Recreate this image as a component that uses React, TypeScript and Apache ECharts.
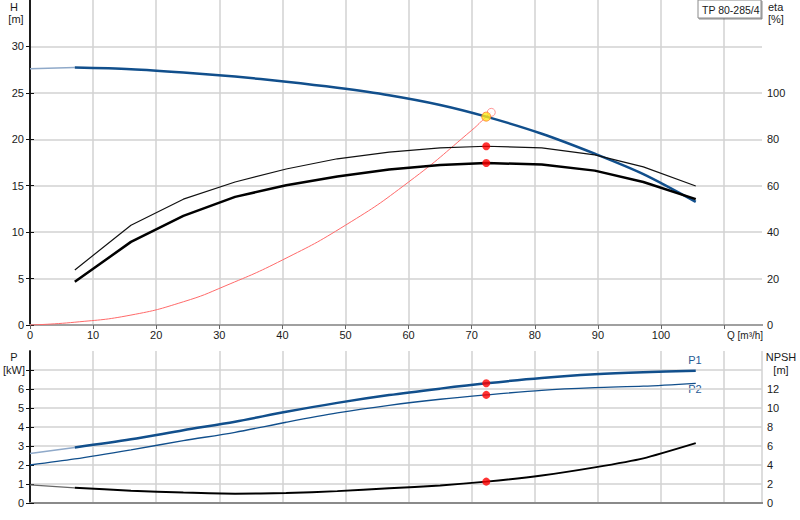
import * as echarts from "echarts"
import { useEffect, useRef } from "react"

// Pump curve sheet: Q-H and efficiency on top, power and NPSH below.
const flow = [7.1, 16, 24.3, 32.5, 40.6, 48.7, 56.9, 65, 72.3, 81.1, 89.5, 97.2, 105.5]
const head = [27.72, 27.55, 27.2, 26.75, 26.2, 25.55, 24.75, 23.7, 22.44, 20.6, 18.45, 16.25, 13.26]
const etaPump = [23.7, 43, 54.2, 61.6, 67.2, 71.6, 74.5, 76.3, 77.0, 76.3, 73.3, 68.1, 59.9]
const etaTotal = [18.6, 35.8, 47, 55.2, 60.2, 64.0, 67.0, 68.9, 69.8, 69.1, 66.5, 61.6, 54.2]
const powerP1 = [2.92, 3.35, 3.83, 4.28, 4.8, 5.27, 5.68, 6.02, 6.3, 6.58, 6.77, 6.88, 6.96]
const powerP2 = [2.32, 2.8, 3.28, 3.72, 4.25, 4.74, 5.14, 5.46, 5.69, 5.93, 6.07, 6.15, 6.3]
const npsh = [1.6, 1.3, 1.1, 0.98, 1.04, 1.25, 1.55, 1.85, 2.25, 2.9, 3.75, 4.7, 6.3]

// values at Q = 0 (extrapolated part, drawn lighter)
const headAtZero = 27.6
const p1AtZero = 2.6
const p2AtZero = 2.0
const npshAtZero = 1.9

// system curve
const systemQ = [0, 7.1, 16, 24.3, 30.9, 40, 50, 60, 70, 72.3, 73.1]
const systemH = [0, 0.3, 1.07, 2.5, 4.2, 7.0, 10.75, 15.4, 20.97, 22.44, 22.9]

// duty point
const dutyQ = 72.3
const dutyH = 22.44
const dutyEtaPump = 77.0
const dutyEtaTotal = 69.8
const dutyP1 = 6.3
const dutyP2 = 5.69
const dutyNpsh = 2.25
const requestedQ = 73.1
const requestedH = 22.9

const qLabels = [0, 10, 20, 30, 40, 50, 60, 70, 80, 90, 100]
const qTicks = [0, 10, 20, 30, 40, 50, 60, 70, 80, 90, 100, 110]
const hLabels = [0, 5, 10, 15, 20, 25, 30]
const etaLabels = [0, 20, 40, 60, 80, 100]
const pTicks = [0, 1, 2, 3, 4, 5, 6, 7]
const pLabels = [0, 1, 2, 3, 4, 5, 6]
const npshTicks = [0, 2, 4, 6, 8, 10, 12, 14]
const npshLabels = [0, 2, 4, 6, 8, 10, 12]

const font = "'Liberation Sans', Arial, sans-serif"
const ink = "#1a1a1a"
const blue = "#114f8c"

const zip = (xs: number[], ys: number[]) => xs.map((x, i) => [x, ys[i]])

export default function App() {
  const ref = useRef<HTMLDivElement>(null)

  useEffect(() => {
    if (!ref.current) return
    const chart = echarts.init(ref.current, null, { renderer: "svg" })

    const grid = { show: true, lineStyle: { color: "#d2d2d2", width: 1.5 } }
    const label = { color: ink, fontSize: 11, fontFamily: font }
    const border = (gridIndex: number, position: string, color: string) => ({
      gridIndex,
      position,
      type: "value",
      min: 0,
      max: 116,
      axisLine: { show: true, lineStyle: { color, width: 2 } },
      axisTick: { show: false },
      axisLabel: { show: false },
      splitLine: { show: false },
    })
    const text = (x: number, y: number, s: string, align = "center", color = ink, size = 11) => ({
      type: "text",
      x,
      y,
      style: { text: s, fill: color, font: `${size}px ${font}`, textAlign: align, textVerticalAlign: "top" },
    })
    const dot = (xi: number, yi: number, pts: number[][], color = "#ff0000", size = 8, extra = {}) => ({
      type: "scatter",
      xAxisIndex: xi,
      yAxisIndex: yi,
      data: pts,
      symbolSize: size,
      itemStyle: { color, ...extra },
      z: 10,
    })
    const line = (xi: number, yi: number, pts: number[][], color: string, width: number, smooth: number | boolean = false) => ({
      type: "line",
      xAxisIndex: xi,
      yAxisIndex: yi,
      data: pts,
      showSymbol: false,
      smooth,
      lineStyle: { color, width },
    })

    chart.setOption({
      animation: false,
      backgroundColor: "#fff",
      grid: [
        { left: 30, right: 38, top: 0, height: 325 },
        { left: 30, right: 38, top: 351, height: 152 },
      ],
      xAxis: [
        {
          gridIndex: 0,
          type: "value",
          min: 0,
          max: 116,
          interval: 10,
          axisLine: { lineStyle: { color: "#7a7a7a", width: 2 } },
          axisTick: { length: 4, lineStyle: { color: "#666" }, customValues: qTicks },
          axisLabel: { ...label, margin: 4, customValues: qLabels },
          splitLine: grid,
        },
        border(0, "top", "#a0a0a0"),
        {
          gridIndex: 1,
          type: "value",
          min: 0,
          max: 116,
          interval: 10,
          axisLine: { lineStyle: { color: "#7a7a7a", width: 2 } },
          axisTick: { show: false },
          axisLabel: { show: false },
          splitLine: grid,
        },
        border(1, "top", "#8a8a8a"),
      ],
      yAxis: [
        {
          gridIndex: 0,
          type: "value",
          min: 0,
          max: 35,
          interval: 5,
          axisLine: { show: true, lineStyle: { color: "#111", width: 1.5 } },
          axisTick: { show: true, length: 4, lineStyle: { color: "#111" }, customValues: hLabels },
          axisLabel: { ...label, margin: 6, customValues: hLabels },
          splitLine: grid,
        },
        {
          gridIndex: 0,
          type: "value",
          position: "right",
          min: 0,
          max: 140,
          interval: 20,
          axisLine: { show: true, lineStyle: { color: "#111", width: 1.5 } },
          axisTick: { show: true, length: 4, lineStyle: { color: "#111" }, customValues: etaLabels },
          axisLabel: { ...label, margin: 5, customValues: etaLabels },
          splitLine: { show: false },
        },
        {
          gridIndex: 1,
          type: "value",
          min: 0,
          max: 8,
          interval: 1,
          axisLine: { show: true, lineStyle: { color: "#111", width: 1.5 } },
          axisTick: { show: true, length: 4, lineStyle: { color: "#111" }, customValues: pTicks },
          axisLabel: { ...label, margin: 6, customValues: pLabels },
          splitLine: grid,
        },
        {
          gridIndex: 1,
          type: "value",
          position: "right",
          min: 0,
          max: 16,
          interval: 2,
          axisLine: { show: true, lineStyle: { color: "#111", width: 1.5 } },
          axisTick: { show: true, length: 4, lineStyle: { color: "#111" }, customValues: npshTicks },
          axisLabel: { ...label, margin: 5, customValues: npshLabels },
          splitLine: { show: false },
        },
      ],
      series: [
        // top: Q-H, efficiencies, system curve
        line(0, 0, zip(systemQ, systemH), "#ff6a6a", 1, true),
        line(0, 0, zip([0, flow[0]], [headAtZero, head[0]]), "#8fa9c9", 1.5),
        line(0, 0, zip(flow, head), blue, 2.5, 0.3),
        line(0, 1, zip(flow, etaPump), "#111", 1.2),
        line(0, 1, zip(flow, etaTotal), "#000", 2.5),
        dot(0, 1, [[dutyQ, dutyEtaPump], [dutyQ, dutyEtaTotal]]),
        dot(0, 0, [[requestedQ, requestedH]], "#ffffff", 8, { borderColor: "#ff7a7a", borderWidth: 1 }),
        dot(0, 0, [[dutyQ, dutyH]], "#ffe81a", 9, { borderColor: "#ff7a2a", borderWidth: 1 }),
        // bottom: power and NPSH
        line(2, 2, zip([0, flow[0]], [p1AtZero, powerP1[0]]), "#8fa9c9", 1.5),
        line(2, 2, zip(flow, powerP1), blue, 2.5, 0.3),
        line(2, 2, zip([0, ...flow], [p2AtZero, ...powerP2]), blue, 1.3, 0.3),
        line(2, 3, zip([0, flow[0]], [npshAtZero, npsh[0]]), "#666", 1.2),
        line(2, 3, zip(flow, npsh), "#000", 2, 0.2),
        dot(2, 2, [[dutyQ, dutyP1], [dutyQ, dutyP2]]),
        dot(2, 3, [[dutyQ, dutyNpsh]]),
      ],
      graphic: [
        text(14, 1, "H"),
        text(16, 13, "[m]"),
        text(768, 1, "eta", "left"),
        text(768, 13, "[%]", "left"),
        text(727, 330, "Q [m³/h]", "left", ink, 10),
        text(14, 351, "P"),
        text(14, 364, "[kW]"),
        text(781, 351, "NPSH"),
        text(781, 364, "[m]"),
        text(695, 354, "P1", "center", "#1f5a96"),
        text(695, 383, "P2", "center", "#1f5a96"),
        {
          type: "rect",
          shape: { x: 698, y: 0, width: 63, height: 18 },
          style: { fill: "#fff", stroke: "#8a8a8a", lineWidth: 1, shadowColor: "rgba(0,0,0,0.45)", shadowOffsetX: 1, shadowOffsetY: 1 },
          z: 20,
        },
        { ...text(702, 4, "TP 80-285/4", "left", ink, 10.5), z: 21 },
      ],
    })

    return () => chart.dispose()
  }, [])

  return (
    <div
      ref={ref}
      style={{ position: "absolute", left: 0, top: 0, width: 800, height: 520, background: "#fff" }}
    />
  )
}
